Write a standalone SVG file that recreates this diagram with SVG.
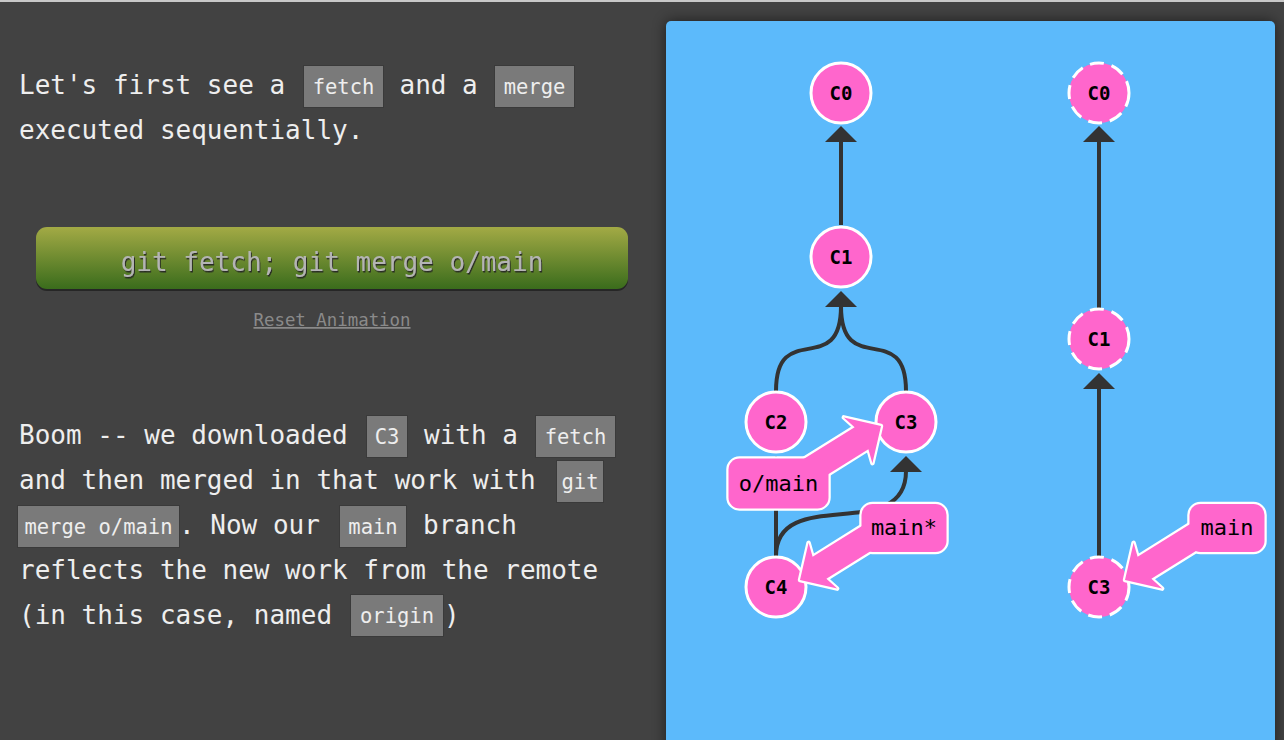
<svg xmlns="http://www.w3.org/2000/svg" xmlns:xlink="http://www.w3.org/1999/xlink" width="1284" height="740" viewBox="0 0 1284 740">
<defs>
<style>
.txt{font-family:"DejaVu Sans Mono","Liberation Mono",monospace;font-size:26px;fill:#eeeeee}
.code{fill:#7a7a7a;stroke:#3a3a3a;stroke-width:1}
.ctxt{font-family:"DejaVu Sans Mono","Liberation Mono",monospace;font-size:20.5px;fill:#eeeeee;text-anchor:middle}
.node circle{fill:#ff66cc;stroke:#ffffff;stroke-width:3}
.node.ghost circle{stroke-dasharray:14 8}
.node text{font-family:"DejaVu Sans Mono","Liberation Mono",monospace;font-size:19px;font-weight:bold;fill:#000;text-anchor:middle}
.edge{fill:none;stroke:#333333;stroke-width:4}
.head{fill:#333333}
.bstroke{fill:#ff66cc;stroke:#ffffff;stroke-width:4.5;stroke-linejoin:round}
.bfill{fill:#ff66cc;stroke:none}
.btxt{font-family:"DejaVu Sans Mono","Liberation Mono",monospace;font-size:22px;fill:#000;text-anchor:middle}
</style>
<linearGradient id="btn" x1="0" y1="0" x2="0" y2="1">
<stop offset="0" stop-color="#a3aa45"/>
<stop offset="1" stop-color="#3a6c1c"/>
</linearGradient>
<filter id="pshadow" x="-10%" y="-10%" width="120%" height="120%">
<feGaussianBlur stdDeviation="7"/>
</filter>
<filter id="tshadow" x="-5%" y="-20%" width="110%" height="150%">
<feDropShadow dx="1" dy="1.5" stdDeviation="0.6" flood-color="#222" flood-opacity="0.9"/>
</filter>
<path id="arr" d="M0,0 L-27,-27 L-23,-13 L-85,-13 L-85,13 L-23,13 L-27,27 Z"/>
<path id="ah" d="M0,0 L16,16 L-16,16 Z"/>
</defs>

<rect x="0" y="0" width="1284" height="740" fill="#424242"/>
<rect x="0" y="0" width="1284" height="2" fill="#c8c8c8"/>

<g id="intro">
<text class="txt" x="19" y="94">Let's first see a</text>
<rect class="code" x="303.5" y="65.5" width="80" height="42"/>
<text class="ctxt" x="343.5" y="94">fetch</text>
<text class="txt" x="399.5" y="94">and a</text>
<rect class="code" x="494.5" y="65.5" width="80" height="42"/>
<text class="ctxt" x="534.5" y="94">merge</text>
<text class="txt" x="19" y="139">executed sequentially.</text>
</g>

<g id="button">
<rect x="36" y="230" width="592" height="61" rx="11" fill="#262626"/>
<rect x="36" y="227" width="592" height="62" rx="11" fill="url(#btn)"/>
<text x="332" y="271" filter="url(#tshadow)" style="font-family:'DejaVu Sans Mono','Liberation Mono',monospace;font-size:26px;fill:#b4b4b4;text-anchor:middle">git fetch; git merge o/main</text>
</g>
<g id="reset">
<text x="332" y="326" style="font-family:'DejaVu Sans Mono','Liberation Mono',monospace;font-size:17.4px;fill:#8a8a8a;text-anchor:middle;text-decoration:underline">Reset Animation</text>
</g>

<g id="explain">
<text class="txt" x="19" y="444">Boom -- we downloaded</text>
<rect class="code" x="366.5" y="415.5" width="41" height="42"/>
<text class="ctxt" x="387" y="444">C3</text>
<text class="txt" x="424" y="444">with a</text>
<rect class="code" x="535.5" y="415.5" width="80" height="42"/>
<text class="ctxt" x="575.5" y="444">fetch</text>
<text class="txt" x="19" y="489">and then merged in that work with</text>
<rect class="code" x="556.5" y="460.5" width="47" height="42"/>
<text class="ctxt" x="580" y="489">git</text>
<rect class="code" x="17.5" y="505.5" width="162" height="42"/>
<text class="ctxt" x="98.5" y="534">merge o/main</text>
<text class="txt" x="179" y="534">. Now our</text>
<rect class="code" x="339.5" y="505.5" width="67" height="42"/>
<text class="ctxt" x="373" y="534">main</text>
<text class="txt" x="423" y="534">branch</text>
<text class="txt" x="19" y="579">reflects the new work from the remote</text>
<text class="txt" x="19" y="624">(in this case, named</text>
<rect class="code" x="350.5" y="594.5" width="93" height="42"/>
<text class="ctxt" x="397" y="623">origin</text>
<text class="txt" x="444" y="624">)</text>
</g>

<rect x="666" y="21" width="609" height="730" rx="5" fill="#000" opacity="0.55" filter="url(#pshadow)"/>
<rect x="666" y="21" width="609" height="730" rx="5" fill="#5cbafb"/>

<g id="connectors">
<path class="edge" d="M841,225 L841,142"/>
<use href="#ah" class="head" x="841" y="126"/>
<path class="edge" d="M776,391 C776,318 841,380 841,306"/>
<path class="edge" d="M906,391 C906,318 841,380 841,306"/>
<use href="#ah" class="head" x="841" y="291"/>
<path class="edge" d="M776,556 L776,470"/>
<use href="#ah" class="head" x="776" y="456"/>
<path class="edge" d="M776,556 C776,484 906,545 906,471"/>
<use href="#ah" class="head" x="906" y="456"/>
<path class="edge" d="M1099,309 L1099,142"/>
<use href="#ah" class="head" x="1099" y="126"/>
<path class="edge" d="M1099,556 L1099,389"/>
<use href="#ah" class="head" x="1099" y="373"/>
</g>

<g id="C0"><g class="node"><circle cx="841" cy="93" r="30"/><text x="841" y="100">C0</text></g></g>
<g id="C1"><g class="node"><circle cx="841" cy="257" r="30"/><text x="841" y="264">C1</text></g></g>
<g id="C2"><g class="node"><circle cx="776" cy="422" r="30"/><text x="776" y="429">C2</text></g></g>
<g id="C3"><g class="node"><circle cx="906" cy="422" r="30"/><text x="906" y="429">C3</text></g></g>
<g id="C4"><g class="node"><circle cx="776" cy="587" r="30"/><text x="776" y="594">C4</text></g></g>
<g id="remote-C0"><g class="node ghost"><circle cx="1099" cy="93" r="30"/><text x="1099" y="100">C0</text></g></g>
<g id="remote-C1"><g class="node ghost"><circle cx="1099" cy="339" r="30"/><text x="1099" y="346">C1</text></g></g>
<g id="remote-C3"><g class="node ghost"><circle cx="1099" cy="587" r="30"/><text x="1099" y="594">C3</text></g></g>

<g id="branch-o-main">
<use href="#arr" class="bstroke" transform="translate(881,426) rotate(-32)"/>
<rect class="bstroke" x="728.5" y="458.5" width="100" height="50" rx="11"/>
<use href="#arr" class="bfill" transform="translate(881,426) rotate(-32)"/>
<rect class="bfill" x="728.5" y="458.5" width="100" height="50" rx="11"/>
<text class="btxt" x="778.5" y="491">o/main</text>
</g>

<g id="branch-main-star">
<use href="#arr" class="bstroke" transform="translate(800,580) rotate(148)"/>
<rect class="bstroke" x="861.5" y="504" width="85" height="48" rx="11"/>
<use href="#arr" class="bfill" transform="translate(800,580) rotate(148)"/>
<rect class="bfill" x="861.5" y="504" width="85" height="48" rx="11"/>
<text class="btxt" x="904" y="535">main*</text>
</g>

<g id="remote-branch-main">
<use href="#arr" class="bstroke" transform="translate(1125,580) rotate(148)"/>
<rect class="bstroke" x="1189.5" y="504" width="75" height="48" rx="11"/>
<use href="#arr" class="bfill" transform="translate(1125,580) rotate(148)"/>
<rect class="bfill" x="1189.5" y="504" width="75" height="48" rx="11"/>
<text class="btxt" x="1227" y="535">main</text>
</g>
</svg>
